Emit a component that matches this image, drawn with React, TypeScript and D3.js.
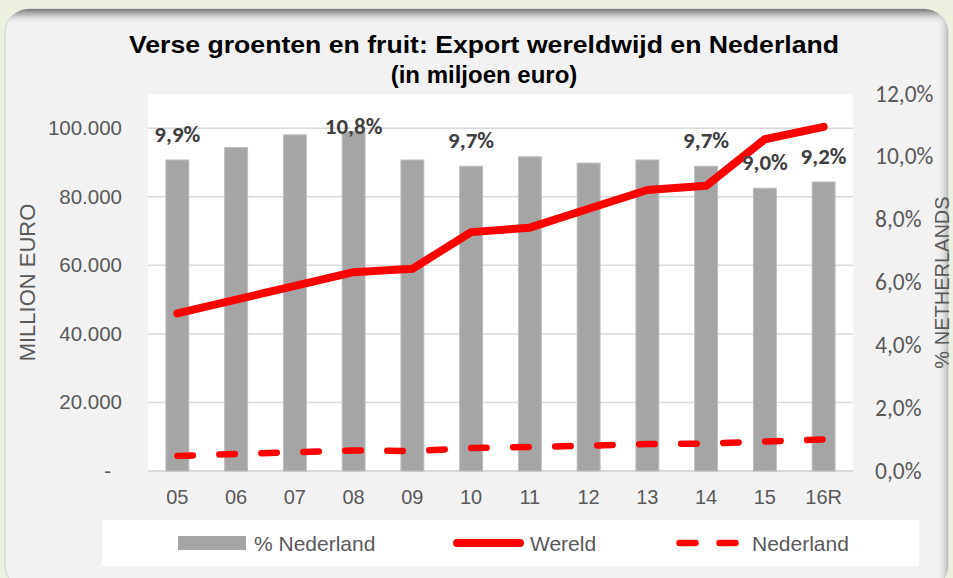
import React from 'react';
import * as d3 from 'd3';

const categories = ['05', '06', '07', '08', '09', '10', '11', '12', '13', '14', '15', '16R'];
const shareNL = [9.9, 10.3, 10.7, 10.8, 9.9, 9.7, 10.0, 9.8, 9.9, 9.7, 9.0, 9.2];
const world = [46000, 50000, 54000, 58000, 59000, 69700, 71000, 76500, 82000, 83200, 96800, 100400];
const netherlands = [4400, 5000, 5500, 6000, 5800, 6700, 7000, 7400, 7900, 8000, 8600, 9200];
const leftTicks = [0, 20000, 40000, 60000, 80000, 100000];
const rightTicks = [0, 2, 4, 6, 8, 10, 12];
const labelledCats = ['05', '08', '10', '14', '15', '16R'];
const labelOnBarCats = ['08'];

const W = 953;
const H = 578;
const plot = { left: 148, right: 853, top: 94, bottom: 471 };

const ARIAL = "'Liberation Sans', Arial, sans-serif";
const CALIBRI = "Carlito, Calibri, Lato, sans-serif";

export default function App() {
  const x = d3.scalePoint<string>().domain(categories).range([plot.left, plot.right]).padding(0.5);
  const step = x.step();
  const barW = step * 0.39;
  const yL = d3.scaleLinear().domain([0, 110000]).range([plot.bottom, plot.top]);
  const yR = d3.scaleLinear().domain([0, 12]).range([plot.bottom, plot.top]);

  const lineW = d3
    .line<number>()
    .x((_, i) => x(categories[i]) as number)
    .y((d) => yL(d));

  const fmtPct = (v: number) => d3.format('.1f')(v).replace('.', ',') + '%';
  const fmtLeft = (v: number) => (v === 0 ? '-' : d3.format(',')(v).replace(/,/g, '.'));

  const legendY = 543;

  return (
    <svg width={W} height={H} style={{ position: 'absolute', left: 0, top: 0 }} xmlns="http://www.w3.org/2000/svg">
      <defs>
        <linearGradient id="topShadow" x1="0" y1="9" x2="0" y2="24" gradientUnits="userSpaceOnUse">
          <stop offset="0" stopColor="#7a7a7a" />
          <stop offset="0.35" stopColor="#b8b8b8" />
          <stop offset="1" stopColor="#f2f2f2" stopOpacity="0" />
        </linearGradient>
        <linearGradient id="rightShadow" x1="948" y1="0" x2="936" y2="0" gradientUnits="userSpaceOnUse">
          <stop offset="0" stopColor="#9a9a9a" />
          <stop offset="1" stopColor="#f2f2f2" stopOpacity="0" />
        </linearGradient>
        <clipPath id="panelClip">
          <rect x={5} y={9} width={943} height={580} rx={24} ry={24} />
        </clipPath>
      </defs>
      <rect x={0} y={0} width={W} height={H} fill="#ebf1de" />
      <rect x={5} y={9} width={943} height={580} rx={24} ry={24} fill="#f2f2f2" stroke="#d0d0d0" strokeWidth={1} />
      <g clipPath="url(#panelClip)">
        <rect x={5} y={9} width={943} height={16} fill="url(#topShadow)" />
        <rect x={930} y={9} width={18} height={580} fill="url(#rightShadow)" opacity={0.6} />
      </g>

      {/* title */}
      <text x={484} y={53} textAnchor="middle" fontFamily={ARIAL} fontWeight="bold" fontSize={24} fill="#000" textLength={710} lengthAdjust="spacingAndGlyphs">
        Verse groenten en fruit: Export wereldwijd en Nederland
      </text>
      <text x={484} y={83} textAnchor="middle" fontFamily={ARIAL} fontWeight="bold" fontSize={24} fill="#000">
        (in miljoen euro)
      </text>

      {/* plot area */}
      <rect x={plot.left} y={plot.top} width={plot.right - plot.left} height={plot.bottom - plot.top + 1} fill="#ffffff" />
      {leftTicks.filter((t) => t > 0).map((t) => (
        <line key={t} x1={plot.left} x2={plot.right} y1={yL(t)} y2={yL(t)} stroke="#d9d9d9" strokeWidth={1.5} />
      ))}
      <line x1={plot.left} x2={plot.right} y1={plot.bottom} y2={plot.bottom} stroke="#d9d9d9" strokeWidth={2} />

      {/* bars */}
      {categories.map((c, i) => (
        <rect
          key={c}
          x={(x(c) as number) - barW / 2}
          y={yR(shareNL[i])}
          width={barW}
          height={plot.bottom - yR(shareNL[i])}
          fill="#a5a5a5"
          stroke="#bdbdbd"
          strokeWidth={1}
        />
      ))}

      {/* Nederland dashed */}
      <path d={lineW(netherlands) || ''} fill="none" stroke="#ff0000" strokeWidth={6.5} strokeLinecap="round" strokeLinejoin="round" strokeDasharray="15.5 26.5" />
      {/* Wereld */}
      <path d={lineW(world) || ''} fill="none" stroke="#ff0000" strokeWidth={8} strokeLinecap="round" strokeLinejoin="round" />

      {/* data labels */}
      {categories.map((c, i) =>
        labelledCats.includes(c) ? (
          <text
            key={'lbl' + c}
            x={x(c) as number}
            y={labelOnBarCats.includes(c) ? yR(shareNL[i]) + 2 : yR(shareNL[i]) - 18}
            textAnchor="middle"
            fontFamily={CALIBRI}
            fontWeight="bold"
            fontSize={23}
            fill="#404040"
          >
            {fmtPct(shareNL[i])}
          </text>
        ) : null
      )}

      {/* left axis labels */}
      {leftTicks.map((t) => (
        <text key={'l' + t} x={t === 0 ? 111 : 122} y={yL(t) + 7} textAnchor="end" fontFamily={ARIAL} fontSize={20.5} fill="#595959">
          {fmtLeft(t)}
        </text>
      ))}
      {/* right axis labels */}
      {rightTicks.map((t) => (
        <text key={'r' + t} x={875} y={yR(t) + 7.5} textAnchor="start" fontFamily={CALIBRI} fontSize={23.5} fill="#595959">
          {fmtPct(t)}
        </text>
      ))}
      {/* category labels */}
      {categories.map((c) => (
        <text key={'c' + c} x={x(c) as number} y={504} textAnchor="middle" fontFamily={ARIAL} fontSize={20} fill="#595959">
          {c}
        </text>
      ))}

      {/* axis titles */}
      <text transform={`translate(35,${(plot.top + plot.bottom) / 2}) rotate(-90)`} textAnchor="middle" fontFamily={ARIAL} fontSize={22} fill="#595959">
        MILLION EURO
      </text>
      <text transform={`translate(949,${(plot.top + plot.bottom) / 2}) rotate(-90)`} textAnchor="middle" fontFamily={ARIAL} fontSize={20} fill="#595959">
        % NETHERLANDS
      </text>

      {/* legend */}
      <rect x={102} y={520} width={817} height={46} fill="#ffffff" />
      <rect x={178} y={536} width={68} height={14} fill="#a5a5a5" />
      <text x={254} y={legendY + 7.5} fontFamily={ARIAL} fontSize={21} fill="#595959">% Nederland</text>
      <line x1={457} x2={520} y1={legendY} y2={legendY} stroke="#ff0000" strokeWidth={8} strokeLinecap="round" />
      <text x={530} y={legendY + 7.5} fontFamily={ARIAL} fontSize={21} fill="#595959">Wereld</text>
      <line x1={679.5} x2={735.5} y1={legendY} y2={legendY} stroke="#ff0000" strokeWidth={6.5} strokeLinecap="round" strokeDasharray="16 24" />
      <text x={752} y={legendY + 7.5} fontFamily={ARIAL} fontSize={21} fill="#595959">Nederland</text>
    </svg>
  );
}
